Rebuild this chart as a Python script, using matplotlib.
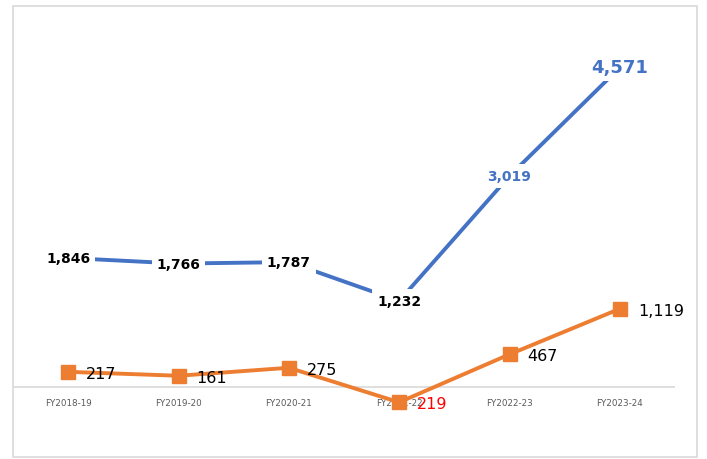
import matplotlib
matplotlib.use("Agg")
import matplotlib.pyplot as plt
from matplotlib.patches import Rectangle

categories = ["FY2018-19", "FY2019-20", "FY2020-21", "FY2021-22", "FY2022-23", "FY2023-24"]
blue_values = [1846, 1766, 1787, 1232, 3019, 4571]
orange_values = [217, 161, 275, -219, 467, 1119]

BLUE = "#4472C4"
ORANGE = "#ED7D31"

W, H = 707, 460
fig = plt.figure(figsize=(W / 100, H / 100), dpi=100)

# outer light border
fig.patches.append(Rectangle((13 / W, 2 / H), (697 - 13) / W, (453 - 2) / H,
                             transform=fig.transFigure, fill=False,
                             edgecolor="#d9d9d9", linewidth=1.2))

scale = 0.0699  # px per unit
ymin, ymax = -750, 5250
top_px = 388 - ymax * scale
bot_px = 388 - ymin * scale
ax = fig.add_axes([13 / W, (H - bot_px) / H, 662 / W, (bot_px - top_px) / H])
ax.set_xlim(-0.5, 5.5)
ax.set_ylim(ymin, ymax)
for s in ax.spines.values():
    s.set_visible(False)
ax.set_yticks([])
ax.set_xticks([])
ax.axhline(0, color="#d9d9d9", linewidth=1.2, zorder=1)

x = list(range(len(categories)))
for i, c in enumerate(categories):
    ax.annotate(c, (i, 0), xytext=(0, -11), textcoords="offset points",
                ha="center", va="center", fontsize=6.3, color="#595959",
                zorder=1.5)

ax.plot(x, blue_values, color=BLUE, linewidth=2.8, zorder=2, solid_capstyle="butt")
ax.plot(x, orange_values, color=ORANGE, linewidth=2.8, marker="s", markersize=9.5,
        zorder=3)

# blue labels
for i, v in enumerate(blue_values):
    col = "black"
    size = 10
    if i >= 4:
        col = BLUE
    if i == 5:
        size = 13
    ax.text(i, v, f"{v:,}", ha="center", va="center", fontsize=size,
            fontweight="bold", color=col, zorder=4,
            bbox=dict(facecolor="white", edgecolor="none", pad=3.5))

# orange labels
for i, v in enumerate(orange_values):
    col = "red" if v < 0 else "black"
    ax.annotate(f"{abs(v):,}", (i, v), xytext=(13, -1), textcoords="offset points",
                ha="left", va="center", fontsize=11.5, color=col, zorder=5)

fig.savefig("out.png", dpi=100)
